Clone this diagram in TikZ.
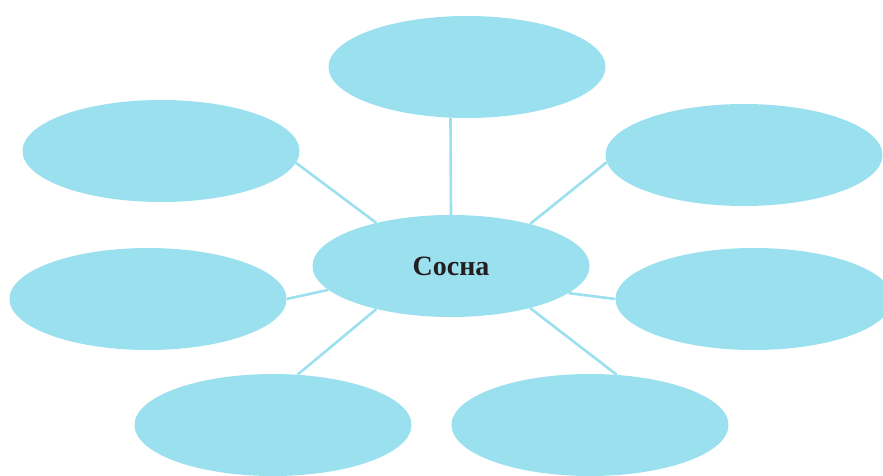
\documentclass[tikz,border=0pt]{standalone}
\usepackage{fontspec}
\setmainfont{Liberation Serif}
\usetikzlibrary{shapes.geometric}
\definecolor{blob}{HTML}{9BE0EE}
\definecolor{ink}{HTML}{231F20}
\tikzset{
  blobnode/.style={ellipse, fill=blob, draw=none, minimum width=277pt, minimum height=102pt, inner sep=0pt},
  link/.style={draw=blob, line width=2.6pt}
}
\begin{document}
\begin{tikzpicture}[x=1pt,y=-1pt]
\useasboundingbox (0,0) rectangle (883,476);
\clip (0,0) rectangle (883,476);
\node[blobnode] (top) at (467,67) {};
\node[blobnode] (ul) at (161,151) {};
\node[blobnode] (ur) at (744,155) {};
\node[blobnode] (c) at (451,266) {\raisebox{-1.5pt}{\fontsize{28}{30}\selectfont\bfseries\color{ink}Сосна}};
\node[blobnode] (ml) at (148,299) {};
\node[blobnode] (mr) at (754,299) {};
\node[blobnode] (bl) at (273,425) {};
\node[blobnode] (br) at (590,425) {};
\draw[link] (top.252.6) -- (c.90);
\draw[link] (ul.355.5) -- (c.150.3);
\draw[link] (ur.183.7) -- (c.28.5);
\draw[link] (ml.0) -- (c.191.7);
\draw[link] (mr.180) -- (c.347.8);
\draw[link] (bl.64.9) -- (c.210.7);
\draw[link] (br.62.5) -- (c.332.3);
\end{tikzpicture}
\end{document}
